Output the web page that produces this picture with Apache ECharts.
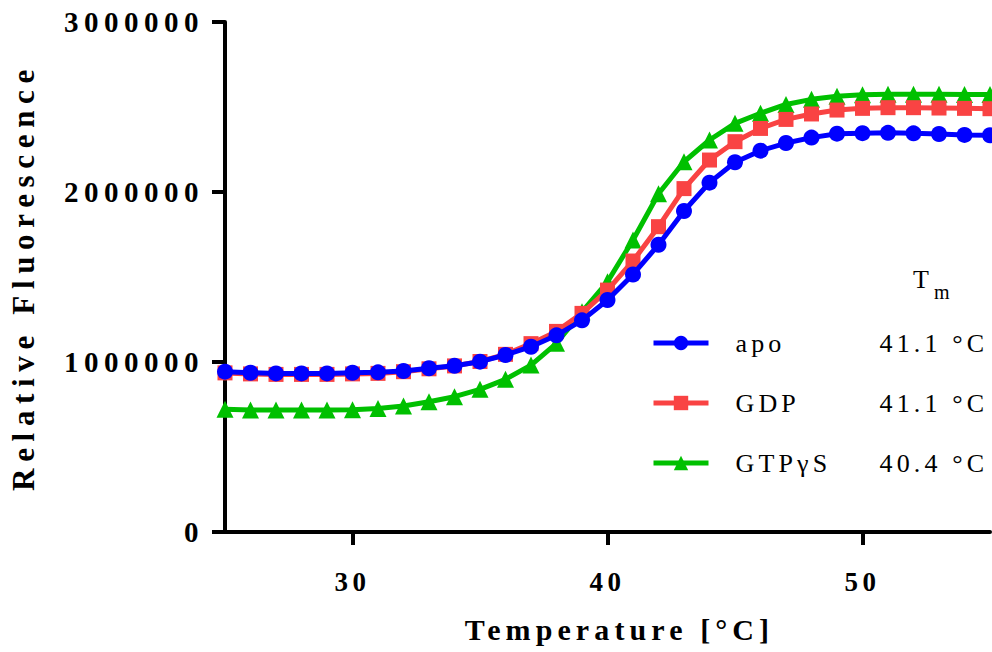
<!DOCTYPE html>
<html>
<head>
<meta charset="utf-8">
<script src="https://cdn.jsdelivr.net/npm/echarts@6/dist/echarts.min.js"></script>
<style>
  html, body { margin: 0; padding: 0; background: #fff; }
  #chart { width: 992px; height: 652px; }
  #chart text { letter-spacing: 0.17em; }
  #chart text[style*="31px"] { letter-spacing: 0.215em; }
  #chart text[style*="29px"] { letter-spacing: 0.19em; }
  #chart text[style*="26px"] { letter-spacing: 0.16em; }
</style>
</head>
<body>
<div id="chart"></div>
<script>
const temperatures = [25, 26, 27, 28, 29, 30, 31, 32, 33, 34, 35, 36, 37, 38, 39, 40,
  41, 42, 43, 44, 45, 46, 47, 48, 49, 50, 51, 52, 53, 54, 55];
const apo = [943000, 937000, 933000, 933000, 933000, 937000, 939000, 947000, 963000, 978000,
  1002000, 1041000, 1090000, 1157000, 1245000, 1365000, 1515000, 1690000, 1888000, 2055000,
  2175000, 2243000, 2288000, 2320000, 2343000, 2346000, 2348000, 2345000, 2341000, 2336000, 2334000];
const gdp = [936000, 930000, 927000, 927000, 927000, 930000, 933000, 943000, 960000, 977000,
  1003000, 1045000, 1108000, 1180000, 1286000, 1423000, 1594000, 1796000, 2020000, 2188000,
  2296000, 2374000, 2427000, 2459000, 2482000, 2492000, 2496000, 2496000, 2494000, 2492000, 2490000];
const gtpgs = [722000, 718000, 717000, 717000, 717000, 719000, 727000, 741000, 766000, 796000,
  839000, 898000, 982000, 1110000, 1295000, 1472000, 1718000, 1990000, 2178000, 2306000,
  2404000, 2463000, 2515000, 2545000, 2563000, 2572000, 2575000, 2575000, 2575000, 2574000, 2573000];
const seriesNames = ['apo', 'GDP', 'GTPγS'];
const tmValues = ['41.1 °C', '41.1 °C', '40.4 °C'];
const xTicks = [30, 40, 50];
const yTicks = [0, 1000000, 2000000, 3000000];

const FONT = 'Liberation Serif';
const pairs = (vals) => temperatures.map((t, i) => [t, vals[i]]);
const tmByName = {};
seriesNames.forEach((n, i) => { tmByName[n] = tmValues[i]; });

const chart = echarts.init(document.getElementById('chart'), null, { renderer: 'svg' });
chart.setOption({
  animation: false,
  backgroundColor: '#ffffff',
  graphic: [
    {
      type: 'text', left: 913, top: 266,
      style: { text: 'T', font: '26px "Liberation Serif"', fill: '#000' }
    },
    {
      type: 'text', left: 934, top: 282,
      style: { text: 'm', font: '20px "Liberation Serif"', fill: '#000' }
    }
  ],
  legend: {
    orient: 'vertical',
    left: 646,
    top: 325,
    itemWidth: 55,
    itemHeight: 18,
    itemGap: 34,
    selectedMode: false,
    data: seriesNames,
    lineStyle: { width: 5 },
    formatter: (name) => '{g| }{n|' + name + '}{t|' + tmByName[name] + '}',
    textStyle: {
      fontFamily: FONT,
      fontSize: 26,
      color: '#000',
      lineHeight: 26,
      rich: {
        g: { width: 22, fontSize: 26, fontFamily: FONT },
        n: { width: 144, fontSize: 26, fontFamily: FONT, color: '#000' },
        t: { fontSize: 26, fontFamily: FONT, color: '#000' }
      }
    }
  },
  grid: { left: 224, right: 2, top: 22, bottom: 120, containLabel: false },
  xAxis: {
    type: 'value',
    min: 25,
    max: 55,
    name: 'Temperature [°C]',
    nameLocation: 'middle',
    nameGap: 82,
    nameTextStyle: { fontFamily: FONT, fontSize: 30, fontWeight: 'bold', color: '#000', padding: [0, 0, 0, 24] },
    splitLine: { show: false },
    axisLine: { show: true, lineStyle: { color: '#000', width: 4 } },
    axisTick: { show: true, customValues: xTicks, length: 13, lineStyle: { color: '#000', width: 4 } },
    axisLabel: {
      customValues: xTicks,
      margin: 36,
      fontFamily: FONT, fontSize: 27, fontWeight: 'bold', color: '#000'
    }
  },
  yAxis: {
    type: 'value',
    min: yTicks[0],
    max: yTicks[yTicks.length - 1],
    interval: 1000000,
    name: 'Relative Fluorescence',
    nameLocation: 'middle',
    nameGap: 186,
    nameTextStyle: { fontFamily: FONT, fontSize: 31, fontWeight: 'bold', color: '#000' },
    splitLine: { show: false },
    axisLine: { show: true, lineStyle: { color: '#000', width: 4 } },
    axisTick: { show: true, length: 13, lineStyle: { color: '#000', width: 4 } },
    axisLabel: {
      margin: 21,
      formatter: (v) => String(v),
      fontFamily: FONT, fontSize: 29, fontWeight: 'bold', color: '#000'
    }
  },
  series: [
    {
      name: seriesNames[0], type: 'line', z: 5, data: pairs(apo),
      symbol: 'circle', symbolSize: 16, showSymbol: true,
      color: '#0000ff', lineStyle: { width: 5, color: '#0000ff' }, itemStyle: { color: '#0000ff' }
    },
    {
      name: seriesNames[1], type: 'line', z: 4, data: pairs(gdp),
      symbol: 'rect', symbolSize: 15, showSymbol: true,
      color: '#f94343', lineStyle: { width: 5, color: '#f94343' }, itemStyle: { color: '#f94343' }
    },
    {
      name: seriesNames[2], type: 'line', z: 3, data: pairs(gtpgs),
      symbol: 'triangle', symbolSize: 17, showSymbol: true,
      color: '#00c000', lineStyle: { width: 5, color: '#00c000' }, itemStyle: { color: '#00c000' }
    }
  ]
});
</script>
</body>
</html>
